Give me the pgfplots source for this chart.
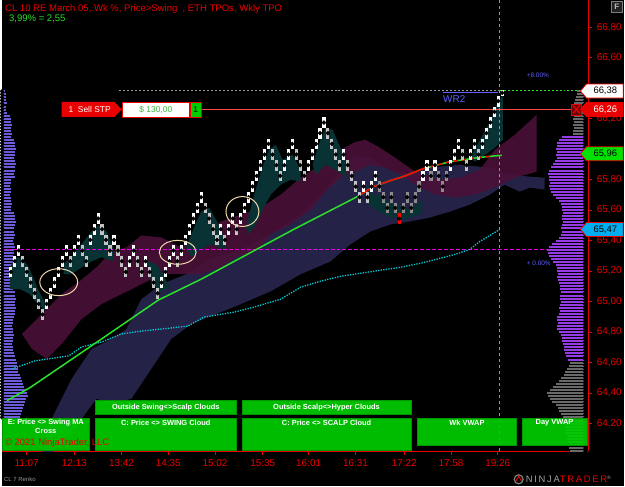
\documentclass[border=0pt]{standalone}
\usepackage{pgfplots}
\pgfplotsset{compat=1.18}
\usepackage{fontspec}
\setmainfont{Liberation Sans}
\definecolor{navyc}{RGB}{40,36,76}
\definecolor{maroonc}{RGB}{74,17,56}
\definecolor{tealc}{RGB}{8,50,52}
\definecolor{brickg}{RGB}{195,195,195}
\definecolor{brickd}{RGB}{140,140,140}
\definecolor{profl}{RGB}{108,92,215}
\definecolor{profr}{RGB}{150,60,230}
\definecolor{profg}{RGB}{105,105,105}
\definecolor{ntred}{RGB}{235,0,0}
\definecolor{magl}{RGB}{230,0,230}
\definecolor{cyanl}{RGB}{0,205,215}
\definecolor{grn}{RGB}{40,225,40}
\definecolor{boxg}{RGB}{0,205,0}
\definecolor{boxb}{RGB}{0,150,0}
\definecolor{ordred}{RGB}{255,70,70}
\definecolor{wrblue}{RGB}{95,95,255}
\definecolor{ellc}{RGB}{240,215,170}
\begin{document}
\begin{tikzpicture}[x=1bp,y=1bp]
\fill[black] (0,-35) rectangle (625,453);
\begin{axis}[
  scale only axis, width=589bp, height=453bp,
  xmin=0, xmax=589, ymin=64.017, ymax=66.976,
  axis x line*=bottom, axis y line*=right,
  axis line style={draw=ntred, line width=0.9bp},
  tick style={draw=ntred, line width=0.9bp},
  tick align=outside, major tick length=4bp,
  xtick={24.7,72.5,120,167,214,262,308,355,404,451,498},
  xticklabels={11:07,12:13,13:42,14:35,15:02,15:35,16:01,16:31,17:22,17:58,19:26},
  ytick={64.2,64.4,64.6,64.8,65,65.2,65.4,65.6,65.8,66,66.2,66.4,66.6,66.8},
  yticklabels={{64,20},{64,40},{64,60},{64,80},{65,00},{65,20},{65,40},{65,60},{65,80},{},{66,20},{},{66,60},{66,80}},
  ticklabel style={font=\fontsize{10}{11}\selectfont, text=ntred},
  xticklabel style={yshift=-1bp},
  yticklabel style={xshift=1bp},
]
% ---- left TPO profile
\addplot[only marks, mark=none, error bars/.cd, x dir=plus, x explicit, error mark=none,
  error bar style={line width=2bp, draw=profl}] table[x=x, y=y, x error=e] {
x y e
0 66.38 3
0 66.36 4
0 66.34 4
0 66.32 4
0 66.30 5
0 66.28 4
0 66.26 4
0 66.24 5
0 66.22 8
0 66.20 9
0 66.18 9
0 66.16 10
0 66.14 9
0 66.12 9
0 66.10 10
0 66.08 9
0 66.06 12
0 66.04 13
0 66.02 13
0 66.00 14
0 65.98 13
0 65.96 13
0 65.94 12
0 65.92 13
0 65.90 14
0 65.88 13
0 65.86 13
0 65.84 12
0 65.82 13
0 65.80 9
0 65.78 9
0 65.76 8
0 65.74 9
0 65.72 9
0 65.70 8
0 65.68 9
0 65.66 9
0 65.64 10
0 65.62 9
0 65.60 9
0 65.58 12
0 65.56 13
0 65.54 13
0 65.52 14
0 65.50 13
0 65.48 12
0 65.46 12
0 65.44 13
0 65.42 12
0 65.40 11
0 65.38 12
0 65.36 13
0 65.34 12
0 65.32 12
0 65.30 11
0 65.28 12
0 65.26 12
0 65.24 11
0 65.22 10
0 65.20 10
0 65.18 9
0 65.16 10
0 65.14 11
0 65.12 10
0 65.10 10
0 65.08 11
0 65.06 13
0 65.04 13
0 65.02 14
0 65.00 13
0 64.98 13
0 64.96 14
0 64.94 13
0 64.92 13
0 64.90 12
0 64.88 11
0 64.86 11
0 64.84 10
0 64.82 11
0 64.80 11
0 64.78 12
0 64.76 11
0 64.74 11
0 64.72 10
0 64.70 11
0 64.68 11
0 64.66 12
0 64.64 13
0 64.62 14
0 64.60 15
0 64.58 15
0 64.56 16
0 64.54 16
0 64.52 18
0 64.50 19
0 64.48 20
0 64.46 21
0 64.44 22
0 64.42 24
0 64.40 25
0 64.38 26
0 64.36 24
0 64.34 23
0 64.32 22
0 64.30 21
0 64.28 20
0 64.26 19
0 64.24 18
};
% ---- right TPO profile (gray part)
\addplot[only marks, mark=none, error bars/.cd, x dir=minus, x explicit, error mark=none,
  error bar style={line width=2bp, draw=profg}] table[x=x, y=y, x error=e] {
x y e
586 66.38 8
586 66.36 8
586 66.34 9
586 66.32 10
586 66.30 11
586 66.28 11
586 66.26 12
586 66.24 11
586 66.22 11
586 66.20 12
586 66.18 11
586 66.16 12
586 66.14 11
586 66.12 12
586 66.10 12
586 64.60 15
586 64.58 16
586 64.56 18
586 64.54 20
586 64.52 22
586 64.50 25
586 64.48 27
586 64.46 30
586 64.44 33
586 64.42 36
586 64.40 39
586 64.38 38
586 64.36 36
586 64.34 34
586 64.32 30
586 64.30 28
586 64.28 27
586 64.26 25
586 64.24 23
586 64.22 22
586 64.20 20
586 64.18 20
586 64.16 19
586 64.14 20
586 64.12 18
586 64.10 18
586 64.08 17
586 64.06 16
586 64.04 16
586 64.02 15
};
% ---- right TPO profile (violet part)
\addplot[only marks, mark=none, error bars/.cd, x dir=minus, x explicit, error mark=none,
  error bar style={line width=2bp, draw=profr}] table[x=x, y=y, x error=e] {
x y e
586 66.08 24
586 66.06 27
586 66.04 29
586 66.02 29
586 66.00 30
586 65.98 29
586 65.96 30
586 65.94 29
586 65.92 31
586 65.90 33
586 65.88 35
586 65.86 37
586 65.84 38
586 65.82 37
586 65.80 37
586 65.78 36
586 65.76 37
586 65.74 36
586 65.72 35
586 65.70 33
586 65.68 30
586 65.66 27
586 65.64 25
586 65.62 24
586 65.60 24
586 65.58 23
586 65.56 24
586 65.54 24
586 65.52 23
586 65.50 24
586 65.48 25
586 65.46 24
586 65.44 25
586 65.42 27
586 65.40 30
586 65.38 34
586 65.36 37
586 65.34 39
586 65.32 38
586 65.30 37
586 65.28 35
586 65.26 33
586 65.24 30
586 65.22 29
586 65.20 29
586 65.18 28
586 65.16 29
586 65.14 28
586 65.12 27
586 65.10 26
586 65.08 26
586 65.06 25
586 65.04 26
586 65.02 26
586 65.00 25
586 64.98 26
586 64.96 27
586 64.94 26
586 64.92 27
586 64.90 29
586 64.88 29
586 64.86 28
586 64.84 29
586 64.82 29
586 64.80 27
586 64.78 25
586 64.76 24
586 64.74 24
586 64.72 23
586 64.70 22
586 64.68 21
586 64.66 20
586 64.64 19
586 64.62 17
};
% ---- swing cloud (navy)
\addplot[fill=navyc, draw=none, fill opacity=0.95] coordinates {
(40,64.004) (50,64.232) (70,64.494) (90,64.690) (110,64.755) (125,64.820) (140,65.016) (160,65.114)
(185,65.180) (210,65.278) (240,65.343) (270,65.441) (300,65.571) (320,65.702) (340,65.850) (355,65.960)
(370,65.940) (390,65.865) (410,65.833) (430,65.879) (460,65.898) (490,65.879) (510,65.833) (530,65.820) (545,65.813)
(545,65.735) (530,65.748) (520,65.722) (505,65.767) (490,65.702) (470,65.637) (450,65.591) (430,65.552)
(410,65.526) (390,65.506) (370,65.460) (350,65.376) (330,65.264) (300,65.180) (270,65.068) (240,64.984)
(215,64.918) (190,64.853) (170,64.755) (150,64.559) (130,64.363) (110,64.330) (95,64.363) (80,64.232) (60,64.069) (50,64.004)
} -- cycle;
% ---- scalp cloud (maroon)
\addplot[fill=maroonc, draw=none, fill opacity=0.9] coordinates {
(20,64.788) (40,64.918) (60,65.049) (78,65.134) (95,65.225) (110,65.330) (125,65.356) (140,65.434) (160,65.421)
(180,65.356) (200,65.441) (220,65.526) (240,65.571) (260,65.617) (280,65.702) (300,65.813) (320,65.898) (340,65.996)
(355,66.048) (365,66.061) (378,66.016) (395,65.944) (415,65.852) (440,65.800) (460,65.813) (480,65.865) (495,65.996)
(515,66.094) (537,66.225)
(537,65.852) (515,65.813) (495,65.748) (475,65.702) (455,65.683) (435,65.702) (415,65.767) (400,65.833) (385,65.879)
(370,65.898) (355,65.852) (340,65.813) (325,65.722) (310,65.604) (290,65.506) (270,65.441) (255,65.330) (235,65.291)
(220,65.225) (200,65.180) (180,65.180) (160,65.180) (140,65.114) (120,65.049) (100,64.984) (80,64.886) (60,64.722) (45,64.624) (30,64.690)
} -- cycle;
% ---- hyper cloud (teal)
\addplot[fill=tealc, draw=none] coordinates {(8,65.225) (14,65.291) (20,65.291) (28,65.212) (36,65.082) (44,64.984) (44,64.938) (36,64.984) (28,65.049) (18,65.082) (8,65.082)} -- cycle;
\addplot[fill=tealc, draw=none] coordinates {(62,65.245) (72,65.310) (80,65.376) (90,65.460) (97,65.500) (105,65.460) (112,65.356) (112,65.264) (100,65.291) (90,65.264) (80,65.225) (70,65.180) (62,65.180)} -- cycle;
\addplot[fill=tealc, draw=none] coordinates {(146,65.264) (155,65.245) (162,65.180) (168,65.095) (160,65.068) (150,65.114)} -- cycle;
\addplot[fill=tealc, draw=none] coordinates {(185,65.356) (192,65.473) (200,65.591) (208,65.617) (216,65.526) (224,65.408) (224,65.343) (210,65.376) (200,65.343) (190,65.291)} -- cycle;
\addplot[fill=tealc, draw=none] coordinates {(245,65.487) (252,65.669) (260,65.852) (268,65.996) (275,66.029) (282,65.931) (292,65.963) (300,65.865) (300,65.787) (290,65.800) (280,65.767) (270,65.702) (262,65.604) (255,65.506) (248,65.441)} -- cycle;
\addplot[fill=tealc, draw=none] coordinates {(312,65.898) (318,66.029) (325,66.140) (332,66.127) (340,66.009) (346,65.898) (346,65.813) (335,65.865) (325,65.898) (315,65.833)} -- cycle;
\addplot[fill=tealc, draw=none] coordinates {(365,65.722) (380,65.696) (395,65.630) (410,65.604) (422,65.669) (422,65.578) (405,65.539) (390,65.552) (375,65.604) (365,65.657)} -- cycle;
\addplot[fill=tealc, draw=none] coordinates {(470,65.944) (480,66.061) (490,66.179) (498,66.310) (503,66.349) (503,66.061) (495,66.009) (485,65.963) (475,65.918)} -- cycle;
% ---- horizontal reference lines
\addplot[magl, line width=1.2bp, dash pattern=on 4bp off 2bp] coordinates {(0,65.343) (548,65.343)};
\addplot[gray!80, line width=0.7bp, dash pattern=on 2bp off 2bp] coordinates {(118,66.388) (500,66.388)};
\addplot[grn, line width=0.8bp, dash pattern=on 2bp off 2bp] coordinates {(500,66.388) (589,66.388)};
\addplot[wrblue, line width=0.8bp] coordinates {(443,66.372) (498,66.372)};
\addplot[ordred, line width=1bp] coordinates {(200,66.26) (589,66.26)};
\addplot[grn, line width=1bp, dash pattern=on 3bp off 3bp] coordinates {(500,64.017) (500,66.976)};
\addplot[magl, line width=1.5bp] coordinates {(586,64.056) (586,64.481)};
% ---- cyan VWAP (dotted)
\addplot[cyanl, line width=1.3bp, dash pattern=on 1.3bp off 1.3bp] coordinates {
(10,64.559) (33,64.611) (67,64.644) (80,64.703) (100,64.735) (120,64.788) (140,64.807) (160,64.820) (187,64.840)
(203,64.899) (233,64.931) (253,64.964) (280,65.016) (300,65.095) (320,65.134) (340,65.166) (360,65.186) (380,65.206)
(400,65.225) (420,65.251) (440,65.284) (455,65.310) (470,65.343) (480,65.395) (490,65.434) (500,65.474)};
% ---- swing MA
\addplot[grn, line width=1.5bp] coordinates {
(5,64.350) (28,64.435) (100,64.755) (157,65.010) (200,65.147) (293,65.474) (357,65.689) (373,65.754) (390,65.794)
(403,65.820) (423,65.872) (450,65.918) (477,65.944) (490,65.953) (502,65.960)};
\addplot[red, line width=1.5bp] coordinates {(357,65.689) (373,65.754) (390,65.794) (403,65.820) (423,65.872)};
\addplot[red, line width=1.5bp, dash pattern=on 4bp off 4bp] coordinates {(423,65.872) (450,65.918) (477,65.944) (490,65.953)};
% ---- renko bricks: down (light gray)
\addplot[only marks, mark=none, error bars/.cd, y dir=both, y explicit, error mark=none,
  error bar style={line width=3.1bp, draw=brickg}] table[x=x, y=y, y error=e] {
x y e
20.9 65.265 0.035
24.9 65.195 0.035
28.9 65.125 0.035
32.9 65.055 0.035
36.9 64.985 0.035
40.8 64.915 0.035
68.7 65.265 0.035
80.6 65.335 0.035
84.6 65.265 0.035
100.5 65.475 0.035
104.5 65.405 0.035
108.5 65.335 0.035
116.5 65.335 0.035
120.4 65.265 0.035
124.4 65.195 0.035
136.4 65.265 0.035
140.3 65.195 0.035
148.3 65.195 0.035
152.3 65.125 0.035
156.3 65.055 0.035
176.2 65.265 0.035
204.0 65.615 0.035
208.0 65.545 0.035
212.0 65.475 0.035
216.0 65.405 0.035
223.9 65.405 0.035
235.9 65.475 0.035
271.7 65.965 0.035
275.7 65.895 0.035
279.6 65.825 0.035
295.6 65.965 0.035
299.5 65.895 0.035
303.5 65.825 0.035
327.4 66.105 0.035
331.4 66.035 0.035
335.4 65.965 0.035
339.3 65.895 0.035
347.3 65.895 0.035
351.3 65.825 0.035
355.3 65.755 0.035
359.2 65.685 0.035
367.2 65.685 0.035
462.7 65.965 0.035
466.7 65.895 0.035
478.6 65.965 0.035
};
% ---- renko bricks below the swing MA (darker gray)
\addplot[only marks, mark=none, error bars/.cd, y dir=both, y explicit, error mark=none,
  error bar style={line width=3.1bp, draw=brickd}] table[x=x, y=y, y error=e] {
x y e
379.1 65.755 0.035
383.1 65.685 0.035
387.1 65.615 0.035
391.1 65.685 0.035
395.1 65.615 0.035
403.0 65.615 0.035
407.0 65.685 0.035
411.0 65.615 0.035
415.0 65.685 0.035
418.9 65.755 0.035
430.9 65.825 0.035
438.8 65.825 0.035
442.8 65.755 0.035
446.8 65.825 0.035
};
% ---- signal brick (red)
\addplot[only marks, mark=none, error bars/.cd, y dir=both, y explicit, error mark=none,
  error bar style={line width=3.1bp, draw=red}] table[x=x, y=y, y error=e] {
x y e
399.0 65.545 0.035
};
% ---- renko bricks: up (white)
\addplot[only marks, mark=none, error bars/.cd, y dir=both, y explicit, error mark=none,
  error bar style={line width=3.1bp, draw=white}] table[x=x, y=y, y error=e] {
x y e
9.0 65.195 0.035
13.0 65.265 0.035
17.0 65.335 0.035
44.8 64.985 0.035
48.8 65.055 0.035
52.8 65.125 0.035
56.8 65.195 0.035
60.7 65.265 0.035
64.7 65.335 0.035
72.7 65.335 0.035
76.7 65.405 0.035
88.6 65.405 0.035
92.6 65.475 0.035
96.6 65.545 0.035
112.5 65.405 0.035
128.4 65.265 0.035
132.4 65.335 0.035
144.3 65.265 0.035
160.2 65.125 0.035
164.2 65.195 0.035
168.2 65.265 0.035
172.2 65.335 0.035
180.1 65.335 0.035
184.1 65.405 0.035
188.1 65.475 0.035
192.1 65.545 0.035
196.1 65.615 0.035
200.0 65.685 0.035
219.9 65.475 0.035
227.9 65.475 0.035
231.9 65.545 0.035
239.8 65.545 0.035
243.8 65.615 0.035
247.8 65.685 0.035
251.8 65.755 0.035
255.8 65.825 0.035
259.7 65.895 0.035
263.7 65.965 0.035
267.7 66.035 0.035
283.6 65.895 0.035
287.6 65.965 0.035
291.6 66.035 0.035
307.5 65.895 0.035
311.5 65.965 0.035
315.5 66.035 0.035
319.4 66.105 0.035
323.4 66.175 0.035
343.3 65.965 0.035
363.2 65.755 0.035
371.2 65.755 0.035
375.2 65.825 0.035
422.9 65.825 0.035
426.9 65.895 0.035
434.9 65.895 0.035
450.8 65.895 0.035
454.8 65.965 0.035
458.7 66.035 0.035
470.7 65.965 0.035
474.7 66.035 0.035
482.6 66.035 0.035
486.6 66.105 0.035
490.6 66.175 0.035
494.6 66.245 0.035
498.5 66.315 0.035
502.5 66.370 0.020
};
\end{axis}
% ---- circles drawn on the chart
\draw[ellc, line width=1bp] (57,170) ellipse [x radius=19, y radius=13.5];
\draw[ellc, line width=1bp] (176.5,200) ellipse [x radius=18.5, y radius=12];
\draw[ellc, line width=1bp] (241.5,241) ellipse [x radius=16.5, y radius=15];
% ---- title
\node[anchor=base west, inner sep=0, text=ntred, font=\fontsize{9.6}{11}\selectfont] at (3,442) {CL 10 RE March 05, Wk \%, Price>Swing\ \ , ETH TPOs, Wkly TPO};
\node[anchor=base west, inner sep=0, text=grn, font=\fontsize{9.6}{11}\selectfont] at (7,432) {3,99\% = 2,55};
% ---- F button
\filldraw[fill={rgb,255:red,35;green,35;blue,35}, draw=gray, line width=0.6bp] (612,441) rectangle (623,452);
\node[text=lightgray, font=\fontsize{8}{9}\selectfont\bfseries, inner sep=0] at (617.5,446.5) {F};
% ---- order line widgets
\fill[ntred] (60,336) -- (113,336) -- (120,343.5) -- (113,351) -- (60,351) -- cycle;
\node[text=white, font=\fontsize{8.5}{9}\selectfont, inner sep=0] at (88,343.5) {1\ \ Sell STP};
\filldraw[fill=white, draw=ntred, line width=0.8bp] (121,336) rectangle (188,351);
\node[text={rgb,255:red,60;green,180;blue,60}, font=\fontsize{8.5}{9}\selectfont, inner sep=0] at (154.5,343.5) {\$ 130,00};
\filldraw[fill=boxg, draw=ntred, line width=0.6bp] (189,336) rectangle (200,351);
\node[text=black, font=\fontsize{8.5}{9}\selectfont, inner sep=0] at (194.5,343.5) {1};
\filldraw[fill={rgb,255:red,110;green,0;blue,0}, draw=ntred, line width=0.8bp] (572,338) rectangle (582,349);
\draw[ntred, line width=1.2bp] (573.5,339.5) -- (580.5,347.5) (573.5,347.5) -- (580.5,339.5);
% ---- small annotations
\node[anchor=west, text=wrblue, font=\fontsize{10}{11}\selectfont, inner sep=0] at (443,354) {WR2};
\node[anchor=west, text=wrblue, font=\fontsize{6.5}{7}\selectfont, inner sep=0] at (527,378) {+8.00\%};
\node[anchor=west, text=wrblue, font=\fontsize{6.5}{7}\selectfont, inner sep=0] at (527,189) {+ 0.00\%};
% ---- price tags
\filldraw[fill=white, draw=ntred, line width=0.8bp] (581,362) -- (587,369) -- (624,369) -- (624,355) -- (587,355) -- cycle;
\node[text=black, font=\fontsize{9.5}{10}\selectfont, inner sep=0] at (606,362) {66,38};
\filldraw[fill=ntred, draw=ntred, line width=0.8bp] (581,343.5) -- (587,350.5) -- (624,350.5) -- (624,336.5) -- (587,336.5) -- cycle;
\node[text=white, font=\fontsize{9.5}{10}\selectfont, inner sep=0] at (606,343.5) {66,26};
\filldraw[fill={rgb,255:red,0;green,225;blue,0}, draw=ntred, line width=0.8bp] (581,299) -- (587,306) -- (624,306) -- (624,292) -- (587,292) -- cycle;
\node[text=black, font=\fontsize{9.5}{10}\selectfont, inner sep=0] at (606,299) {65,96};
\filldraw[fill=cyan, draw=ntred, line width=0.8bp] (581,223) -- (587,230) -- (624,230) -- (624,216) -- (587,216) -- cycle;
\node[text=black, font=\fontsize{9.5}{10}\selectfont, inner sep=0] at (606,223) {65,47};
% ---- signal boxes
\begin{scope}[fill opacity=0.92]
\filldraw[fill=boxg, draw=boxb, line width=0.6bp] (94,37) rectangle (235,51);
\filldraw[fill=boxg, draw=boxb, line width=0.6bp] (241,37) rectangle (411,51);
\filldraw[fill=boxg, draw=boxb, line width=0.6bp] (0,1) rectangle (88,33);
\filldraw[fill=boxg, draw=boxb, line width=0.6bp] (94,1) rectangle (235,33);
\filldraw[fill=boxg, draw=boxb, line width=0.6bp] (241,1) rectangle (411,33);
\filldraw[fill=boxg, draw=boxb, line width=0.6bp] (417,6) rectangle (517,33);
\filldraw[fill=boxg, draw=boxb, line width=0.6bp] (523,6) rectangle (588,33);
\end{scope}
\begin{scope}[every node/.style={text=white, font=\fontsize{7.5}{8}\selectfont\bfseries, inner sep=0}]
\node at (164.5,44) {Outside Swing<>Scalp Clouds};
\node at (326,44) {Outside Scalp<>Hyper Clouds};
\node at (44,28.5) {E: Price <> Swing MA};
\node at (44,20.5) {Cross};
\node at (164.5,28.5) {C: Price <> SWING Cloud};
\node at (326,28.5) {C: Price <> SCALP Cloud};
\node at (467,28.5) {Wk VWAP};
\node at (555,28.5) {Day VWAP};
\end{scope}
\node[anchor=base west, text=ntred, font=\fontsize{9.5}{10}\selectfont, inner sep=0] at (3,6) {\textcopyright\ 2021 NinjaTrader, LLC};
% ---- footer
\node[anchor=west, text=gray!80, font=\fontsize{6}{7}\selectfont, inner sep=0] at (2,-28) {CL 7 Renko};
\draw[gray, line width=1.2bp] (519,-28) circle (4.5);
\draw[ntred, line width=1bp] (516,-30) -- (519,-25) -- (522,-30);
\node[anchor=west, font=\fontsize{9.5}{10}\selectfont\addfontfeatures{LetterSpace=18}, inner sep=0] at (526,-28) {\textcolor{gray!75}{NINJA}\textcolor{ntred}{TRADER}\textcolor{gray!75}{\textsuperscript{\tiny ®}}};
\end{tikzpicture}
\end{document}
